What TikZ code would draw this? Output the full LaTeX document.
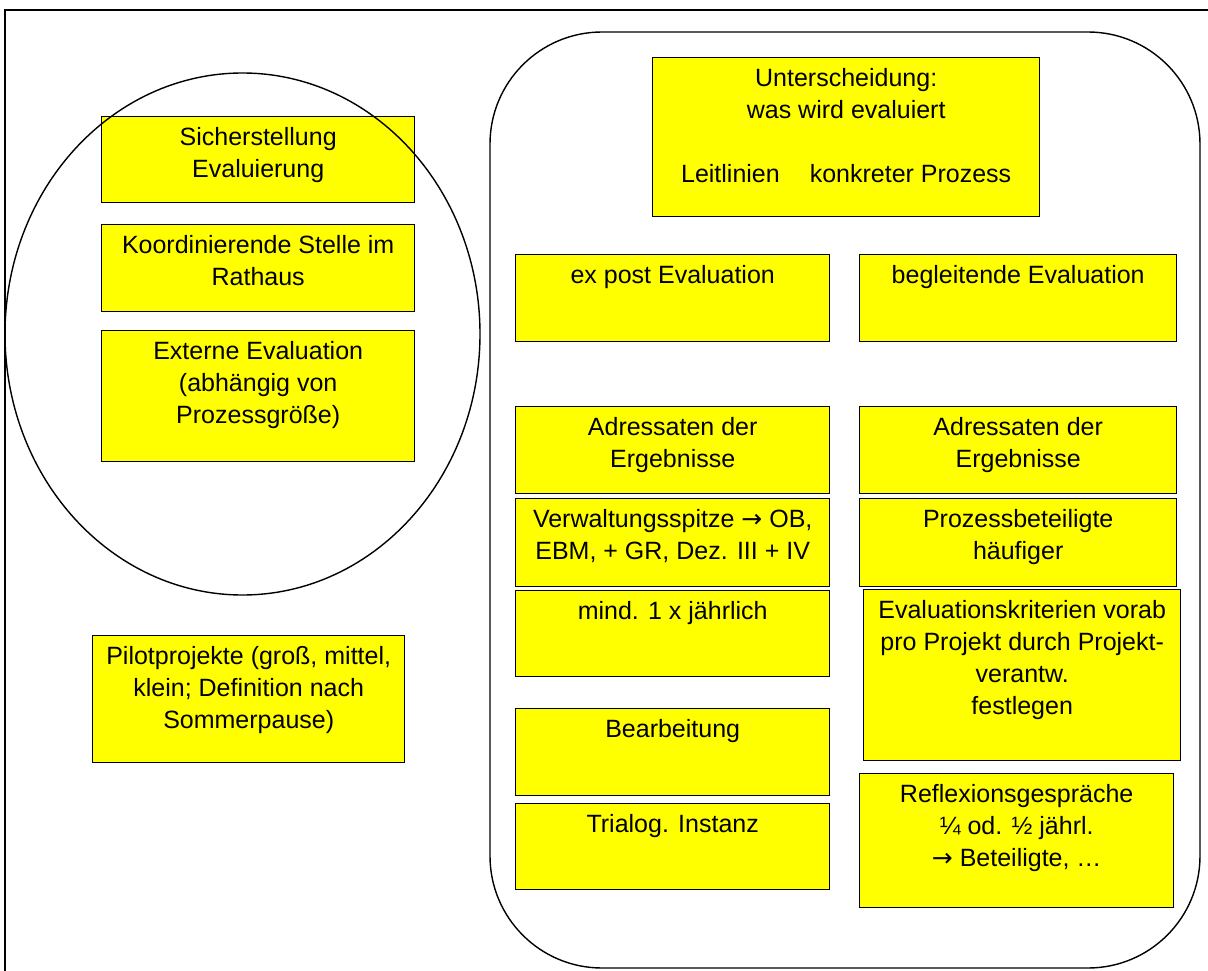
\documentclass[tikz,border=0pt]{standalone}
\usepackage{fontspec}
\setmainfont{Liberation Sans}
\newfontfamily\arrowfont{DejaVu Sans}
\usepackage{tikz}
\usetikzlibrary{positioning}
\definecolor{Note}{HTML}{FFFF00}
\definecolor{Ink}{HTML}{000000}

\begin{document}
\begin{tikzpicture}[
  x=1pt, y=-1pt,
  note/.style={draw=Ink, fill=Note, line width=1.4pt, anchor=north west, inner sep=0pt},
  txt/.style={anchor=north, align=center, yshift=-8pt, inner sep=3pt, font=\fontsize{25}{32}\selectfont},
  frame/.style={draw=Ink, line width=1.4pt},
]
\useasboundingbox (0,0) rectangle (1208,971);
\draw[frame] (5,971) -- (5,10) -- (1208,10);
\draw[frame, rounded corners=112pt] (490,32) rectangle (1200,968);
% left column
\node[note, minimum width=313pt, minimum height=86pt, label={[txt, name=sich-t]north:{Sicherstellung\\Evaluierung}}] (sich) at (101,116) {};
\node[note, minimum width=313pt, minimum height=87pt, label={[txt, name=koord-t]north:{Koordinierende Stelle im\\Rathaus}}] (koord) at (101,224) {};
\node[note, minimum width=313pt, minimum height=131pt, label={[txt, name=extern-t]north:{Externe Evaluation\\(abhängig von\\Prozessgröße)}}] (extern) at (101,330) {};
\draw[frame] (242.5,334) ellipse [x radius=237.5, y radius=261];
\node[note, minimum width=312pt, minimum height=127pt, label={[txt, name=pilot-t]north:{Pilotprojekte (groß, mittel,\\klein; Definition nach\\Sommerpause)}}] (pilot) at (92,635) {};
% right block
\node[note, minimum width=387pt, minimum height=159pt, label={[txt, name=unter-t]north:{Unterscheidung:\\was wird evaluiert\\[32pt]Leitlinien\hspace{30pt}konkreter Prozess}}] (unter) at (652,57) {};
\node[note, minimum width=314pt, minimum height=87pt, label={[txt, name=expost-t]north:{ex post Evaluation}}] (expost) at (515,254) {};
\node[note, minimum width=317pt, minimum height=87pt, label={[txt, name=begl-t]north:{begleitende Evaluation}}] (begl) at (859,254) {};
\node[note, minimum width=314pt, minimum height=87pt, label={[txt, name=adrL-t]north:{Adressaten der\\Ergebnisse}}] (adrL) at (515,406) {};
\node[note, minimum width=317pt, minimum height=87pt, label={[txt, name=adrR-t]north:{Adressaten der\\Ergebnisse}}] (adrR) at (859,406) {};
\node[note, minimum width=314pt, minimum height=88pt, label={[txt, name=verw-t]north:{Verwaltungsspitze {\arrowfont →} OB,\\EBM, + GR, Dez. III + IV}}] (verw) at (515,498) {};
\node[note, minimum width=317pt, minimum height=88pt, label={[txt, name=proz-t]north:{Prozessbeteiligte\\häufiger}}] (proz) at (859,498) {};
\node[note, minimum width=314pt, minimum height=86pt, label={[txt, name=mind-t]north:{mind. 1 x jährlich}}] (mind) at (515,590) {};
\node[note, minimum width=317pt, minimum height=171pt, label={[txt, name=krit-t]north:{Evaluationskriterien vorab\\pro Projekt durch Projekt-\\verantw.\\festlegen}}] (krit) at (863,589) {};
\node[note, minimum width=314pt, minimum height=87pt, label={[txt, name=bearb-t]north:{Bearbeitung}}] (bearb) at (515,708) {};
\node[note, minimum width=314pt, minimum height=86pt, label={[txt, name=trial-t]north:{Trialog. Instanz}}] (trial) at (515,803) {};
\node[note, minimum width=314pt, minimum height=134pt, label={[txt, name=refl-t]north:{Reflexionsgespräche\\¼ od. ½ jährl.\\{\arrowfont →} Beteiligte, …}}] (refl) at (859,773) {};
\end{tikzpicture}
\end{document}
